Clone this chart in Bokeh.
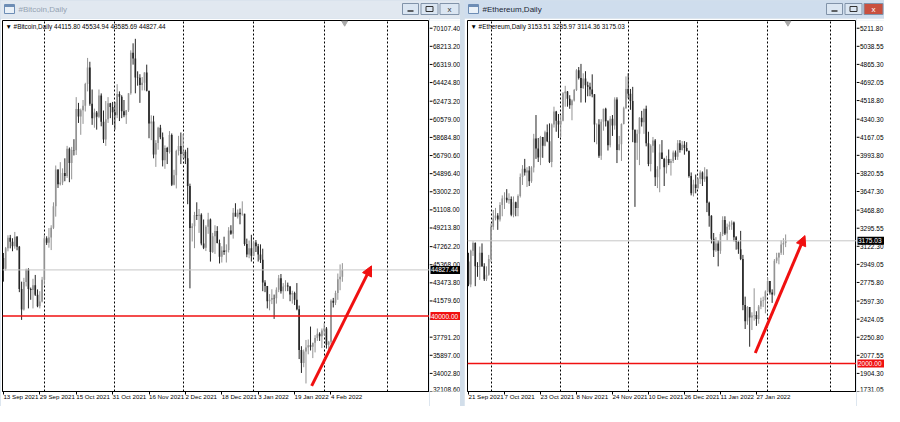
import pandas as pd
from bokeh.plotting import figure
from bokeh.layouts import row, column
from bokeh.models import (ColumnDataSource, FixedTicker, Span, Label, Arrow, NormalHead, Range1d)
from bokeh.core.properties import value
from bokeh.embed import file_html
from bokeh.resources import INLINE

# ---------------- data ----------------
BASE = pd.Timestamp("2021-09-13")

btc_start = "2021-09-13"
btc_open = [46060,44960,47090,48180,47780,47300,48300,47260,42840,40690,43570,44880,42840,42720,43210,42240,41030,41520,
            43790,48140,47660,48230,49250,51490,55340,53800,53970,54960,54660,57490,56010,57370,57350,61670,60880,61530,62010,64280,66000,62210,60690,61300,60860,63080,60330,58460,60590,62250,61860,
            61320,61000,63230,62940,61430,61010,61530,63300,67550,66950,64950,64930,64160,64400,65470,63560,60130,60360,56890,58100,59700,58700,56300,57570,57150,58950,53730,54740,57270,57800,
            56950,57200,56500,53600,49200,49400,50580,50500,50600,47600,47150,49350,50100,46700,48350,48900,47650,46200,46850,46700,46900,48950,48600,50800,50400,50800,50650,50700,47550,46450,47100,
            46300,47700,47300,46450,45900,43500,43150,41550,41700,41900,41850,42750,43950,42600,43100,43200,43100,42250,42400,41700,40700,36450,35100,36300,36700,36950,36800,37200,37700,38150,37900,
            38500,38700,37000,37300,41600,41400,42400,43850,44115.80]
btc_high = [46600,47230,48450,48490,48140,48800,48370,47330,43600,44000,44960,45000,42980,43900,44300,42790,42600,44100,
            48500,48340,49200,49500,51900,55750,55340,56100,55450,56500,57800,57630,57700,58500,62900,62300,61700,62600,64400,67000,66600,63700,61700,61450,63700,63290,61500,62500,62900,62300,62400,
            62400,64250,63500,63100,62600,61560,63300,67800,68530,69000,65600,65300,65000,65500,66300,63560,61000,60950,58400,59800,60000,59200,57850,57700,59350,59100,55300,57400,58850,59200,
            59050,57400,57600,53850,49700,50900,51900,51200,50750,50100,49500,50800,50200,48700,49500,49400,48000,47300,48300,47500,49300,49500,51300,51800,51150,51250,52000,50700,48100,47900,48500,
            47900,47950,47550,47500,47050,43750,43150,42300,42800,42250,43000,44300,44400,43450,43750,43500,43150,42650,42550,43450,41100,36850,36500,37500,37550,38900,37200,38000,38700,38300,38700,
            39250,38850,37400,41750,41900,42650,44450,45400,45534.94]
btc_low = [43600,44750,46770,47080,46780,47050,46880,42500,39600,40570,43100,40800,41700,40800,42100,40920,40800,41430,
           43290,47440,47150,46900,49100,50400,53400,53660,53700,54100,54450,54000,54300,56800,56850,60200,58960,60100,61400,63500,62000,60000,59700,59500,60700,59850,58100,57800,60200,60700,60000,
           59500,60700,60400,60700,60800,60100,61350,63150,66300,63300,64100,62300,63600,63600,63500,58600,58400,56500,55600,57400,58500,55650,55400,55900,57000,53600,53670,53350,56800,55900,
           56500,55900,51700,42900,47800,47100,50050,48700,47400,47000,46800,48600,45700,46600,46500,47600,45500,45600,46400,45600,46650,48500,48100,50500,50200,49600,50500,47350,46150,46050,45700,
           46250,46700,45700,45550,42600,42500,40800,40600,41250,39700,41300,42500,42350,41800,42600,42600,41550,41300,41150,40600,35500,34050,34650,32950,36000,36400,35600,36200,37400,37400,36650,
           38000,36600,36300,37100,40900,41150,41700,42700,43585.69]
btc_close = [44960,47090,48180,47780,47300,48300,47260,42840,40690,43570,44880,42840,42720,43210,42240,41030,41520,43790,
             48140,47660,48230,49250,51490,55340,53800,53970,54960,54660,57490,56010,57370,57350,61670,60880,61530,62010,64280,66000,62210,60690,61300,60860,63080,60330,58460,60590,62250,61860,61320,
             61000,63230,62940,61430,61010,61530,63300,67550,66950,64950,64930,64160,64400,65470,63560,60130,60360,56890,58100,59700,58700,56300,57570,57150,58950,53730,54740,57270,57800,56950,
             57200,56500,53600,49200,49400,50580,50500,50600,47600,47150,49350,50100,46700,48350,48900,47650,46200,46850,46700,46900,48950,48600,50800,50400,50800,50650,50700,47550,46450,47100,46300,
             47700,47300,46450,45900,43500,43150,41550,41700,41900,41850,42750,43950,42600,43100,43200,43100,42250,42400,41700,40700,36450,35100,36300,36700,36950,36800,37200,37700,38150,37900,38500,
             38700,37000,37300,41600,41400,42400,43850,44115.80,44827.44]

eth_start = "2021-09-21"
eth_open = [2977,2757,3080,3155,2930,2925,3060,2930,2807,2850,
            3000,3310,3390,3418,3380,3518,3580,3587,3563,3575,3425,3545,3490,3605,3787,3865,3830,3848,3745,3878,4155,4060,3972,4170,4085,4215,4130,3930,4290,4415,4325,
            4290,4325,4590,4605,4535,4475,4520,4620,4810,4735,4640,4730,4665,4650,4625,4580,4290,4290,3990,4315,4440,4320,4090,4345,4280,4530,4045,4100,4295,4445,
            4630,4585,4515,4240,4115,4200,4355,4310,4440,4110,3910,4085,4135,3785,3860,4020,3960,3880,3960,3920,3940,4020,3980,4110,4045,4095,4065,4035,3795,3630,3715,
            3680,3770,3830,3765,3790,3540,3415,3195,3085,3150,3080,3240,3375,3245,3310,3330,3350,3210,3165,3095,3000,2560,2405,2540,2440,2460,2465,2425,2545,2600,2605,
            2690,2790,2680,2660,2985,3015,3060,3140,3153.51]
eth_high = [3060,3090,3170,3160,2970,3120,3150,2960,2930,3040,
            3340,3470,3490,3440,3545,3610,3640,3670,3630,3600,3600,3550,3620,3820,3900,3960,3880,3890,3890,4200,4380,4160,4180,4170,4230,4290,4300,4300,4460,4420,4390,
            4380,4600,4660,4610,4570,4530,4630,4820,4840,4870,4780,4800,4700,4690,4770,4580,4300,4340,4340,4440,4450,4330,4370,4380,4550,4550,4180,4300,4460,4750,
            4780,4630,4650,4240,4240,4360,4420,4440,4470,4220,4100,4170,4150,3890,4100,4140,3970,3990,4050,3960,4040,4040,4140,4140,4130,4130,4120,4040,3830,3760,3810,
            3780,3850,3840,3880,3860,3550,3420,3250,3210,3180,3260,3410,3410,3340,3360,3370,3360,3220,3170,3270,3040,2640,2550,2540,2490,2720,2500,2560,2630,2640,2700,
            2820,2790,2710,3000,3060,3060,3180,3200,3235.97]
eth_low = [2740,2730,3030,2740,2830,2800,2925,2790,2790,2840,
           2970,3280,3370,3280,3360,3410,3480,3540,3530,3410,3400,3410,3410,3590,3710,3800,3690,3700,3730,3830,3960,3930,3900,3970,4080,4120,3920,3880,4260,4220,4160,
           4170,4320,4460,4460,4440,4330,4510,4610,4720,4500,4630,4500,4560,4560,4550,4120,4100,3970,3950,4230,4270,4040,4070,4180,4240,3920,4040,3940,4290,4440,
           4540,4430,4120,3500,3950,3900,4270,4200,4080,3890,3840,4020,3700,3680,3640,3960,3700,3820,3900,3800,3920,3950,3950,4020,4040,4000,4030,3780,3610,3600,3630,
           3670,3720,3700,3740,3450,3310,3150,3020,3070,2930,3050,3220,3230,3180,3280,3280,3170,3090,3050,2990,2510,2330,2370,2160,2320,2410,2360,2380,2520,2540,2480,
           2680,2660,2580,2650,2960,2950,3040,3040,3114.36]
eth_close = [2757,3080,3155,2930,2925,3060,2930,2807,2850,3000,
             3310,3390,3418,3380,3518,3580,3587,3563,3575,3425,3545,3490,3605,3787,3865,3830,3848,3745,3878,4155,4060,3972,4170,4085,4215,4130,3930,4290,4415,4325,4290,
             4325,4590,4605,4535,4475,4520,4620,4810,4735,4640,4730,4665,4650,4625,4580,4290,4290,3990,4315,4440,4320,4090,4345,4280,4530,4045,4100,4295,4445,4630,
             4585,4515,4240,4115,4200,4355,4310,4440,4110,3910,4085,4135,3785,3860,4020,3960,3880,3960,3920,3940,4020,3980,4110,4045,4095,4065,4035,3795,3630,3715,3680,
             3770,3830,3765,3790,3540,3415,3195,3085,3150,3080,3240,3375,3245,3310,3330,3350,3210,3165,3095,3000,2560,2405,2540,2440,2460,2465,2425,2545,2600,2605,2690,
             2790,2680,2660,2985,3015,3060,3140,3153.51,3175.03]

btc_yticks = [32108.60, 34002.80, 35897.00, 37791.20, 39685.40, 41579.60, 43473.80, 45368.00, 47262.20,
              49213.80, 51108.00, 53002.20, 54896.40, 56790.60, 58684.80, 60579.00, 62473.20, 64424.80,
              66319.00, 68213.20, 70107.40]
btc_hidden_ticks = [39685.40]
eth_yticks = [1731.05, 1904.30, 2077.55, 2250.80, 2424.05, 2597.30, 2775.80, 2949.05, 3122.30, 3295.55,
              3468.80, 3647.30, 3820.55, 3993.80, 4167.05, 4340.30, 4518.80, 4692.05, 4865.30, 5038.55, 5211.80]
eth_hidden_ticks = []

btc_date_labels = ["13 Sep 2021", "29 Sep 2021", "15 Oct 2021", "31 Oct 2021", "16 Nov 2021",
                   "2 Dec 2021", "18 Dec 2021", "3 Jan 2022", "19 Jan 2022", "4 Feb 2022"]
eth_date_labels = ["21 Sep 2021", "7 Oct 2021", "23 Oct 2021", "8 Nov 2021", "24 Nov 2021",
                   "10 Dec 2021", "26 Dec 2021", "11 Jan 2022", "27 Jan 2022"]
month_starts = ["1 Oct 2021", "1 Nov 2021", "1 Dec 2021", "1 Jan 2022", "1 Feb 2022", "1 Mar 2022"]

btc_level = 40000.00
eth_level = 2000.00
# arrows: (day_start, price_start, day_end, price_end)
btc_arrow = (135.5, 32700, 161.8, 45250)
eth_arrow = (135.5, 2100, 157.6, 3225)

btc_xrange = (-0.4, 187.3)
btc_yrange = (32108.60, 70916.0)
eth_xrange = (7.55, 180.5)
eth_yrange = (1731.05, 5285.9)

# ---------------- styling / layout ----------------
FONT = "Liberation Sans"
UP = "#939393"
DOWN = "#262626"
RED = "#f01010"
TB_H, CH_H = 18, 388
TOP, BOT = 2, 14
LEFT_MAIN, LEFT_SCALE = 429, 31
RIGHT_MAIN, RIGHT_SCALE = 392, 28
GAP = 4
SCALE_FONT = "6.5px"


def day_of(s, fmt="%d %b %Y"):
    return (pd.to_datetime(s, format=fmt) - BASE).days


def titlebar(width, text, active):
    bg = "#cfdded" if active else "#e1e8f0"
    t = figure(width=width, height=TB_H, x_range=Range1d(0, width), y_range=Range1d(0, TB_H),
               toolbar_location=None, output_backend="svg", min_border=0,
               x_axis_location=None, y_axis_location=None,
               background_fill_color=bg, border_fill_color=bg, outline_line_color=None)
    t.grid.visible = False
    cy = TB_H / 2 + 0.5
    t.rect(x=[9], y=[cy], width=10, height=9, fill_color="#eaf1f8", line_color="#6d8db5")
    t.rect(x=[9], y=[cy + 3], width=10, height=2, fill_color="#6d8db5", line_color=None)
    t.text(x=[18], y=[cy], text=[text], text_font=value(FONT), text_font_size="8px",
           text_baseline="middle", text_color="#1c2836" if active else "#95a3b3")
    xs = [width - 50, width - 31, width - 11]
    ws = [16, 17, 19]
    fills = ["#dbe6f2", "#dbe6f2", "#c9503f" if active else "#dbe6f2"]
    t.rect(x=xs, y=[cy] * 3, width=ws, height=11, fill_color=fills, line_color="#8193a9")
    t.segment(x0=[xs[0] - 3], y0=[cy - 2], x1=[xs[0] + 3], y1=[cy - 2],
              line_color="#333333", line_width=1.5)
    t.rect(x=[xs[1]], y=[cy], width=7, height=5, fill_color=None, line_color="#333333")
    t.text(x=[xs[2]], y=[cy], text=["x"], text_font=value(FONT), text_font_size="8px",
           text_align="center", text_baseline="middle",
           text_color="white" if active else "#333333")
    return t


def chart(width, border_left, start, o, h, l, c, xr, yrange, xlabels, name, level, arrow):
    d0 = day_of(start, "%Y-%m-%d")
    days = [d0 + i for i in range(len(c))]
    assert len(o) == len(h) == len(l) == len(c), (len(o), len(h), len(l), len(c))
    yr = (yrange.start, yrange.end)
    p = figure(width=width, height=CH_H, x_range=Range1d(*xr), y_range=yrange,
               toolbar_location=None, output_backend="svg", y_axis_location=None,
               min_border_left=border_left, min_border_right=0, min_border_top=TOP,
               min_border_bottom=BOT,
               background_fill_color="white", border_fill_color="white",
               outline_line_color="black", outline_line_width=1)
    p.xgrid.ticker = FixedTicker(ticks=[day_of(m) for m in month_starts])
    p.xgrid.grid_line_color = "black"
    p.xgrid.grid_line_dash = "2 2"
    p.ygrid.visible = False

    xa = p.xaxis[0]
    xpos = [day_of(s) for s in xlabels]
    xa.ticker = FixedTicker(ticks=xpos)
    xa.major_label_overrides = {x: s for x, s in zip(xpos, xlabels)}
    xa.major_label_orientation = -1e-4
    xa.major_label_standoff = 2
    xa.axis_label = None
    xa.axis_label_standoff = 0
    xa.axis_line_color = "black"
    xa.major_tick_line_color = "black"
    xa.major_tick_out = 3
    xa.major_tick_in = 0
    xa.minor_tick_line_color = None
    xa.major_label_text_font = FONT
    xa.major_label_text_font_size = "6.2px"
    xa.major_label_text_color = "black"

    colors = [UP if cc >= oo else DOWN for oo, cc in zip(o, c)]
    src = ColumnDataSource(dict(x=days, h=h, l=l,
                                top=[max(a, b) for a, b in zip(o, c)],
                                bottom=[min(a, b) for a, b in zip(o, c)],
                                color=colors))
    p.segment(x0="x", y0="l", x1="x", y1="h", line_color="color", line_width=1, source=src)
    p.vbar(x="x", width=0.72, top="top", bottom="bottom", fill_color="color",
           line_color=None, source=src)

    p.add_layout(Span(location=c[-1], dimension="width", line_color="#c6c6c6", line_width=1))
    p.add_layout(Span(location=level, dimension="width", line_color=RED, line_width=1.5))
    p.add_layout(Arrow(end=NormalHead(size=10, fill_color=RED, line_color=RED),
                       x_start=arrow[0], y_start=arrow[1], x_end=arrow[2], y_end=arrow[3],
                       line_color=RED, line_width=3))
    header = f"\u25bc {name}  {o[-1]:.2f} {h[-1]:.2f} {l[-1]:.2f} {c[-1]:.2f}"
    p.add_layout(Label(x=xr[0], y=yr[1], x_offset=3, y_offset=-2, text=header, text_font=FONT,
                       text_font_size="6.4px", text_color="black", text_baseline="top"))
    p.scatter(x=[days[-1] + 1], y=[yr[1] - 0.006 * (yr[1] - yr[0])], marker="inverted_triangle",
              size=6, fill_color="#a9a9a9", line_color="#a9a9a9")
    return p


def price_scale(width, yrange, yticks, hidden, last, level):
    s = figure(width=width, height=CH_H, x_range=Range1d(0, width), y_range=yrange,
               toolbar_location=None, output_backend="svg",
               x_axis_location=None, y_axis_location=None,
               min_border_left=0, min_border_right=0, min_border_top=TOP, min_border_bottom=BOT,
               background_fill_color="white", border_fill_color="white", outline_line_color=None)
    s.grid.visible = False
    s.segment(x0=[0] * len(yticks), y0=yticks, x1=[3] * len(yticks), y1=yticks,
              line_color="black", line_width=1)
    shown = [v for v in yticks if v not in hidden]
    low, rest = shown[:1], shown[1:]
    s.text(x=[3.5] * len(rest), y=rest, text=[f"{v:.2f}" for v in rest],
           text_font=value(FONT), text_font_size=SCALE_FONT, text_baseline="middle",
           text_color="black")
    # the lowest value sits on the frame's bottom edge: keep it inside
    s.text(x=[3.5] * len(low), y=low, text=[f"{v:.2f}" for v in low],
           text_font=value(FONT), text_font_size=SCALE_FONT, text_baseline="bottom",
           text_color="black")
    s.rect(x=[width / 2 + 0.5, width / 2 + 0.5], y=[last, level], width=width - 1, height=8,
           height_units="screen", fill_color=["black", RED], line_color=None)
    s.text(x=[1.5, 1.5], y=[last, level], text=[f"{last:.2f}", f"{level:.2f}"],
           text_font=value(FONT), text_font_size=SCALE_FONT, text_baseline="middle",
           text_color="white")
    return s


btc_y = Range1d(*btc_yrange)
eth_y = Range1d(*eth_yrange)
left_chart = chart(LEFT_MAIN, 2, btc_start, btc_open, btc_high, btc_low, btc_close, btc_xrange,
                   btc_y, btc_date_labels, "#Bitcoin,Daily", btc_level, btc_arrow)
left_scale = price_scale(LEFT_SCALE, btc_y, btc_yticks, btc_hidden_ticks, btc_close[-1], btc_level)
right_chart = chart(RIGHT_MAIN, 3, eth_start, eth_open, eth_high, eth_low, eth_close, eth_xrange,
                    eth_y, eth_date_labels, "#Ethereum,Daily", eth_level, eth_arrow)
right_scale = price_scale(RIGHT_SCALE, eth_y, eth_yticks, eth_hidden_ticks, eth_close[-1], eth_level)

left_win = column(titlebar(LEFT_MAIN + LEFT_SCALE, "#Bitcoin,Daily", False),
                  row(left_chart, left_scale, spacing=0), spacing=0)
right_win = column(titlebar(RIGHT_MAIN + RIGHT_SCALE, "#Ethereum,Daily", True),
                   row(right_chart, right_scale, spacing=0), spacing=0)
page = row(left_win, right_win, spacing=GAP, styles={"background-color": "#d2deea"})

open("out.html", "w").write(file_html(page, INLINE))
